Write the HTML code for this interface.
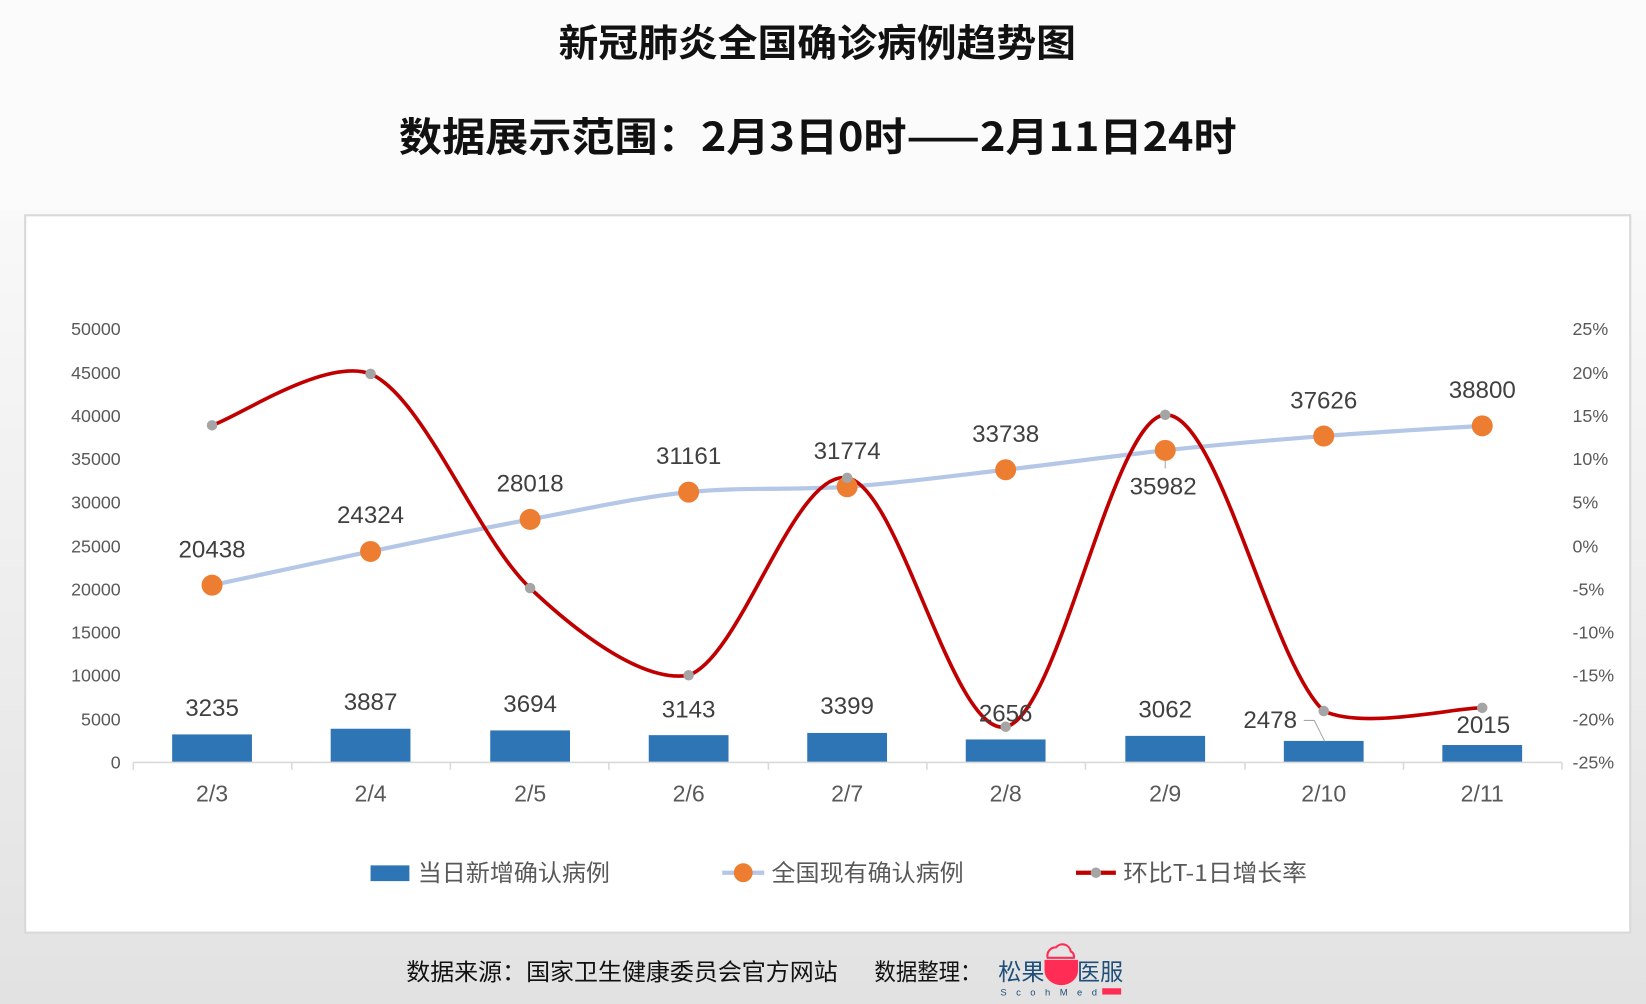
<!DOCTYPE html>
<html><head><meta charset="utf-8"><style>
html,body{margin:0;padding:0;width:1646px;height:1004px;overflow:hidden;background:#fff}
svg{display:block}
</style></head><body>
<svg width="1646" height="1004" viewBox="0 0 1568 956" preserveAspectRatio="none" xmlns="http://www.w3.org/2000/svg" font-family="Liberation Sans, Noto Sans CJK SC, sans-serif">
<defs><linearGradient id="bg" x1="0" y1="0" x2="0" y2="1"><stop offset="0" stop-color="#ffffff"/><stop offset="1" stop-color="#e2e2e2"/></linearGradient></defs>
<rect x="0" y="0" width="1568" height="956" fill="url(#bg)"/>
<rect x="0" y="0" width="1568" height="200" fill="#fbfbfb"/>
<rect x="24" y="205" width="1529" height="683" fill="#fff" stroke="#d9d9d9" stroke-width="2"/>
<text x="532" y="54" textLength="493" lengthAdjust="spacingAndGlyphs" font-size="36" font-weight="bold" fill="#111" font-family="Noto Sans CJK SC, sans-serif">新冠肺炎全国确诊病例趋势图</text>
<text x="380" y="144" textLength="798" lengthAdjust="spacingAndGlyphs" font-size="38" font-weight="bold" fill="#111" font-family="Noto Sans CJK SC, sans-serif">数据展示范围：2月3日0时——2月11日24时</text>
<g font-size="17" fill="#595959" text-anchor="end">
<text x="115" y="319">50000</text><text x="115" y="361">45000</text><text x="115" y="402">40000</text><text x="115" y="443">35000</text><text x="115" y="484">30000</text><text x="115" y="526">25000</text><text x="115" y="567">20000</text><text x="115" y="608">15000</text><text x="115" y="649">10000</text><text x="115" y="691">5000</text><text x="115" y="732">0</text>
</g>
<g font-size="17" fill="#595959" text-anchor="start">
<text x="1498" y="319">25%</text><text x="1498" y="361">20%</text><text x="1498" y="402">15%</text><text x="1498" y="443">10%</text><text x="1498" y="484">5%</text><text x="1498" y="526">0%</text><text x="1498" y="567">-5%</text><text x="1498" y="608">-10%</text><text x="1498" y="649">-15%</text><text x="1498" y="691">-20%</text><text x="1498" y="732">-25%</text>
</g>
<g fill="#2e75b6">
<rect x="164" y="699.3" width="76" height="26.7"/><rect x="315" y="693.9" width="76" height="32.1"/><rect x="467" y="695.5" width="76" height="30.5"/><rect x="618" y="700" width="76" height="26"/><rect x="769" y="697.9" width="76" height="28.1"/><rect x="920" y="704.1" width="76" height="21.9"/><rect x="1072" y="700.7" width="76" height="25.3"/><rect x="1223" y="705.5" width="76" height="20.5"/><rect x="1374" y="709.4" width="76" height="16.6"/>
</g>
<g stroke="#d9d9d9" stroke-width="1.5"><line x1="127" y1="726" x2="1488" y2="726"/>
<line x1="127" y1="726" x2="127" y2="733"/><line x1="278" y1="726" x2="278" y2="733"/><line x1="429" y1="726" x2="429" y2="733"/><line x1="580" y1="726" x2="580" y2="733"/><line x1="732" y1="726" x2="732" y2="733"/><line x1="883" y1="726" x2="883" y2="733"/><line x1="1034" y1="726" x2="1034" y2="733"/><line x1="1186" y1="726" x2="1186" y2="733"/><line x1="1337" y1="726" x2="1337" y2="733"/><line x1="1488" y1="726" x2="1488" y2="733"/></g>
<g font-size="22" fill="#595959" text-anchor="middle">
<text x="202" y="763">2/3</text><text x="353" y="763">2/4</text><text x="505" y="763">2/5</text><text x="656" y="763">2/6</text><text x="807" y="763">2/7</text><text x="958" y="763">2/8</text><text x="1110" y="763">2/9</text><text x="1261" y="763">2/10</text><text x="1412" y="763">2/11</text>
</g>
<path d="M202,557.2 C227,551.8 302.5,535.5 353,525.1 C403.5,514.7 454.5,504 505,494.6 C555.5,485.2 605.7,473.8 656,468.6 C706.3,463.4 756.7,467 807,463.5 C857.3,460 907.5,453.1 958,447.3 C1008.5,441.5 1059.5,434.2 1110,428.8 C1160.5,423.4 1210.7,419.1 1261,415.2 C1311.3,411.3 1386.8,407.1 1412,405.5" fill="none" stroke="#b4c7e7" stroke-width="4"/>
<line x1="1110" y1="428" x2="1110" y2="446" stroke="#a6a6a6" stroke-width="1"/>
<polyline points="1242,686 1252,686 1262,706" fill="none" stroke="#a6a6a6" stroke-width="1"/>
<path d="M202,405 C227.2,396.8 310,340 353,356 C403.5,378 454.5,512.2 505,560 C555.5,607.8 615,650 656,643 C706.3,625.5 756.7,446.8 807,455 C857.3,463.2 907.5,702 958,692 C1008.5,682 1059.5,397.5 1110,395 C1160.5,392.5 1210.7,630.5 1261,677 C1300,695 1386.8,673.5 1412,674" fill="none" stroke="#c00000" stroke-width="3.5"/>
<g fill="#ed7d31">
<circle cx="202" cy="557.2" r="10"/><circle cx="353" cy="525.1" r="10"/><circle cx="505" cy="494.6" r="10"/><circle cx="656" cy="468.6" r="10"/><circle cx="807" cy="463.5" r="10"/><circle cx="958" cy="447.3" r="10"/><circle cx="1110" cy="428.8" r="10"/><circle cx="1261" cy="415.2" r="10"/><circle cx="1412" cy="405.5" r="10"/>
</g>
<g fill="#a5a5a5">
<circle cx="202" cy="405" r="5"/><circle cx="353" cy="356" r="5"/><circle cx="505" cy="560" r="5"/><circle cx="656" cy="643" r="5"/><circle cx="807" cy="455" r="5"/><circle cx="958" cy="692" r="5"/><circle cx="1110" cy="395" r="5"/><circle cx="1261" cy="677" r="5"/><circle cx="1412" cy="674" r="5"/>
</g>
<g font-size="23" fill="#404040" text-anchor="middle">
<text x="202" y="531">20438</text><text x="353" y="498">24324</text><text x="505" y="468">28018</text><text x="656" y="442">31161</text><text x="807" y="437">31774</text><text x="958" y="421">33738</text><text x="1108" y="471">35982</text><text x="1261" y="389">37626</text><text x="1412" y="379">38800</text>
<text x="202" y="682">3235</text><text x="353" y="676">3887</text><text x="505" y="678">3694</text><text x="656" y="683">3143</text><text x="807" y="680">3399</text><text x="958" y="687">2656</text><text x="1110" y="683">3062</text><text x="1210" y="693">2478</text><text x="1413" y="698">2015</text>
</g>
<rect x="353" y="824" width="37" height="15" fill="#2e75b6"/>
<line x1="688" y1="831" x2="728" y2="831" stroke="#b4c7e7" stroke-width="4"/><circle cx="708" cy="831" r="9" fill="#ed7d31"/>
<line x1="1025" y1="831" x2="1063" y2="831" stroke="#c00000" stroke-width="4"/><circle cx="1044" cy="831" r="5" fill="#a5a5a5"/>
<g font-size="22" fill="#595959" font-family="Noto Sans CJK SC, sans-serif">
<text x="398" y="839" textLength="183" lengthAdjust="spacingAndGlyphs">当日新增确认病例</text><text x="735" y="839" textLength="183" lengthAdjust="spacingAndGlyphs">全国现有确认病例</text><text x="1070" y="839" textLength="175" lengthAdjust="spacingAndGlyphs">环比T-1日增长率</text>
</g>
<g font-size="22" fill="#111" font-family="Noto Sans CJK SC, sans-serif">
<text x="387" y="933" textLength="411" lengthAdjust="spacingAndGlyphs">数据来源：国家卫生健康委员会官方网站</text><text x="833" y="933" textLength="102" lengthAdjust="spacingAndGlyphs">数据整理：</text>
<text x="951" y="933" fill="#1f4e79">松果</text><text x="1026" y="933" fill="#1f4e79">医服</text>
</g>
<path d="M995,914 h32 v10 a16,14 0 0 1 -32,0 z" fill="#ff2d55"/>
<path d="M998,912 a8,8 0 0 1 8,-10 a8,8 0 0 1 14,4 a5,5 0 0 1 3,6 z" fill="none" stroke="#ff2d55" stroke-width="2"/>
<text x="953" y="948" font-size="9" fill="#1f4e79" letter-spacing="9">ScohMed</text>
<rect x="1050" y="941" width="18" height="6" fill="#ff2d55"/>
</svg>
</body></html>
